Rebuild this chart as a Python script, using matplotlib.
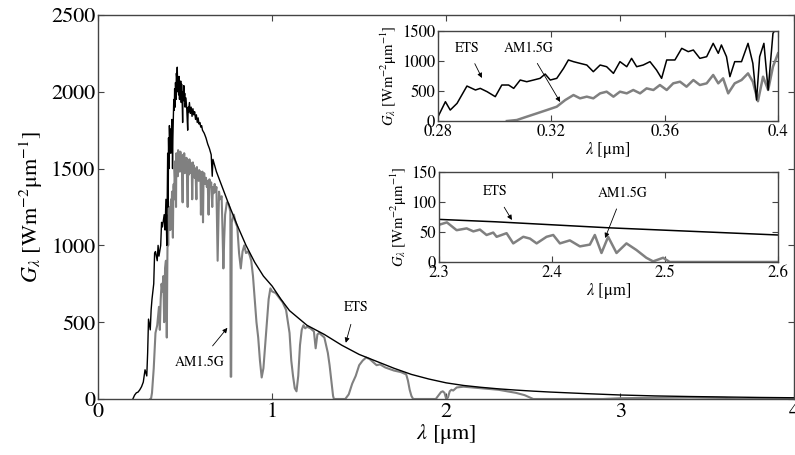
import matplotlib
matplotlib.use('Agg')
import matplotlib.pyplot as plt
import numpy as np

plt.rcParams['font.family'] = ['STIXGeneral', 'DejaVu Serif']
plt.rcParams['mathtext.fontset'] = 'stix'

# main plot: extraterrestrial spectrum (ETS)
ets_wl = [0.20, 0.21, 0.22, 0.23, 0.24, 0.25, 0.26, 0.27, 0.28, 0.285, 0.29, 0.30, 0.305,
          0.31, 0.32, 0.325, 0.33, 0.34, 0.345, 0.35, 0.36, 0.365, 0.37, 0.38, 0.385,
          0.39, 0.395, 0.400, 0.403, 0.405, 0.408, 0.410, 0.413, 0.415, 0.418, 0.420,
          0.423, 0.425, 0.428, 0.430, 0.433, 0.435, 0.438, 0.440, 0.443, 0.445, 0.448,
          0.450, 0.453, 0.455, 0.458, 0.460, 0.463, 0.465, 0.468, 0.470, 0.473, 0.475,
          0.478, 0.480, 0.483, 0.486, 0.488, 0.490, 0.493, 0.495, 0.498, 0.500, 0.505,
          0.510, 0.515, 0.518, 0.520, 0.525, 0.530, 0.535, 0.540, 0.545, 0.550, 0.555,
          0.560, 0.565, 0.570, 0.575, 0.580, 0.585, 0.590, 0.595, 0.600, 0.610, 0.620,
          0.630, 0.640, 0.650, 0.656, 0.660, 0.670, 0.680,
          0.70, 0.72, 0.75, 0.80, 0.85, 0.90, 0.95, 1.00, 1.05, 1.10, 1.20, 1.30, 1.40,
          1.50, 1.60, 1.70, 1.80, 1.90, 2.00, 2.10, 2.20, 2.30, 2.40, 2.50, 2.60, 2.80,
          3.00, 3.20, 3.40, 3.60, 3.80, 4.00]
ets_val = [0, 25, 40, 45, 60, 80, 110, 190, 150, 300, 520, 450, 580,
           650, 750, 950, 960, 900, 1000, 930, 1000, 1150, 1120, 1200, 1100,
           1300, 1000, 1600, 1250, 1700, 1500, 1780, 1650, 1720, 1600, 1760,
           1680, 1820, 1500, 1700, 1850, 1950, 1880, 2020, 1900, 2060, 1950,
           2120, 2080, 2160, 2000, 2080, 1980, 2100, 1950, 2060, 2000, 2070,
           1930, 2050, 1960, 1800, 2000, 1960, 2040, 1940, 1990, 1900, 1960,
           1880, 1750, 1900, 1870, 1930, 1860, 1900, 1840, 1890, 1850, 1870,
           1820, 1850, 1800, 1830, 1790, 1800, 1770, 1780, 1750, 1730, 1700,
           1660, 1630, 1590, 1450, 1560, 1520, 1480,
           1420, 1360, 1270, 1130, 1000, 890, 800, 735, 650, 575, 480, 420, 350,
           290, 245, 200, 160, 130, 105, 88, 76, 66, 58, 51, 45, 35,
           26, 20, 16, 13, 10, 8]

# main plot: AM1.5G global tilt spectrum
am_wl = [0.30, 0.305, 0.31, 0.32, 0.33, 0.34, 0.35, 0.355, 0.36, 0.365, 0.37, 0.375, 0.38,
         0.385, 0.39, 0.395, 0.400, 0.403, 0.405, 0.408, 0.410, 0.413, 0.415, 0.418,
         0.420, 0.423, 0.425, 0.428, 0.430, 0.433, 0.435, 0.438, 0.440, 0.443, 0.445,
         0.448, 0.450, 0.453, 0.455, 0.458, 0.460, 0.463, 0.466, 0.470, 0.473, 0.476,
         0.480, 0.483, 0.486, 0.489, 0.492, 0.495, 0.498, 0.501, 0.505, 0.508, 0.511,
         0.515, 0.518, 0.521, 0.525, 0.528, 0.531, 0.535, 0.538, 0.541, 0.545, 0.548,
         0.551, 0.555, 0.558, 0.561, 0.565, 0.568, 0.571, 0.575, 0.578, 0.581, 0.585,
         0.588, 0.591, 0.595, 0.600, 0.603, 0.606, 0.610, 0.615, 0.620, 0.625, 0.630,
         0.635, 0.640, 0.645, 0.650, 0.656, 0.660, 0.665, 0.670, 0.675, 0.680, 0.687,
         0.692, 0.695, 0.70, 0.71, 0.715, 0.72, 0.725, 0.73, 0.74,
         0.75, 0.76, 0.762, 0.765, 0.768, 0.78, 0.79, 0.80, 0.81, 0.82, 0.83, 0.84, 0.85,
         0.86, 0.87, 0.88, 0.89, 0.90, 0.91, 0.92, 0.93, 0.94, 0.95, 0.96, 0.97, 0.98,
         0.99, 1.00, 1.02, 1.04, 1.06, 1.08, 1.10, 1.11, 1.12, 1.13, 1.14, 1.15, 1.16,
         1.17, 1.18, 1.19, 1.20, 1.22, 1.24, 1.25, 1.26, 1.27, 1.28, 1.30, 1.31, 1.32,
         1.33, 1.34, 1.35, 1.355, 1.42, 1.44, 1.46, 1.48, 1.50, 1.52, 1.54, 1.56, 1.58,
         1.60, 1.62, 1.65, 1.70, 1.74, 1.77, 1.78, 1.79, 1.80, 1.81, 1.94, 1.96, 1.97,
         1.98, 1.99, 2.00, 2.01, 2.02, 2.03, 2.04, 2.06, 2.10, 2.15, 2.20, 2.25, 2.30,
         2.35, 2.40, 2.45, 2.48, 2.50, 2.90, 3.00, 3.20, 3.40, 3.60, 3.70, 4.00]
am_val = [0, 5, 40, 200, 430, 480, 600, 450, 650, 750, 700, 800, 500,
          850, 900, 400, 1150, 1000, 1200, 1100, 1250, 1180, 1100, 1280,
          1300, 1220, 1350, 1150, 1050, 1380, 1400, 1300, 1500, 1420, 1550,
          1250, 1600, 1500, 1580, 1450, 1620, 1520, 1600, 1480, 1610, 1550,
          1580, 1460, 1280, 1590, 1500, 1600, 1470, 1560, 1500, 1570, 1450,
          1250, 1540, 1460, 1560, 1480, 1540, 1470, 1520, 1300, 1540, 1460,
          1520, 1440, 1500, 1450, 1300, 1510, 1430, 1480, 1420, 1490, 1440,
          1480, 1200, 1460, 1480, 1150, 1440, 1470, 1400, 1440, 1380, 1420,
          1200, 1430, 1380, 1410, 1250, 1380, 1340, 1400, 1350, 1380, 900,
          1200, 1350, 1300, 1320, 1100, 850, 1050, 1200, 1280,
          1270, 1220, 145, 145, 1150, 1200, 1150, 1120, 950, 850, 960, 1000, 950,
          960, 940, 900, 800, 650, 500, 400, 250, 140, 200, 350, 500, 650,
          720, 700, 690, 660, 630, 580, 430, 250, 150, 70, 50, 150, 350,
          450, 480, 460, 470, 460, 440, 330, 420, 430, 420, 400, 350, 300,
          220, 120, 20, 0, 0, 30, 100, 150, 220, 250, 270, 260, 240,
          220, 225, 205, 185, 175, 160, 120, 60, 20, 0, 0, 30, 45,
          50, 40, 0, 10, 50, 60, 55, 75, 80, 75, 70, 65, 60,
          50, 40, 25, 10, 0, 0, 5, 8, 10, 7, 0, 0]

# inset 1 (UV detail)
uv_ets_wl = [0.280, 0.2826, 0.2843, 0.2867, 0.2902, 0.2932, 0.2949, 0.2973, 0.3002, 0.3025,
             0.3049, 0.3067, 0.3090, 0.3113, 0.3137, 0.3160, 0.3178, 0.3196, 0.3219, 0.3243,
             0.3260, 0.3278, 0.3301, 0.3325, 0.3348, 0.3372, 0.3395, 0.3419, 0.3442, 0.3466,
             0.3483, 0.3501, 0.3524, 0.3548, 0.3571, 0.3589, 0.3607, 0.3636, 0.3660, 0.3683,
             0.3701, 0.3724, 0.3748, 0.3771, 0.3789, 0.3800, 0.3818, 0.3830, 0.3847, 0.3871,
             0.3894, 0.3911, 0.3924, 0.3935, 0.3950, 0.3965, 0.3982, 0.3994]
uv_ets_val = [72, 322, 183, 294, 583, 517, 544, 489, 406, 600,
              600, 544, 683, 655, 683, 711, 783, 683, 711, 878,
              1017, 989, 961, 933, 822, 933, 905, 794, 989, 905,
              1044, 905, 933, 989, 850, 711, 1017, 1017, 1211, 1156,
              1183, 1044, 1072, 1294, 1128, 1267, 1072, 739, 989, 989,
              1294, 961, 350, 1072, 1294, 517, 1461, 1550]
uv_am_wl = [0.3043, 0.3078, 0.3113, 0.3149, 0.3184, 0.3219, 0.3249, 0.3278, 0.3301, 0.3325,
            0.3348, 0.3372, 0.3395, 0.3419, 0.3442, 0.3466, 0.3489, 0.3513, 0.3536, 0.3560,
            0.3583, 0.3607, 0.3630, 0.3654, 0.3677, 0.3701, 0.3724, 0.3748, 0.3771, 0.3789,
            0.3806, 0.3824, 0.3847, 0.3871, 0.3894, 0.3911, 0.3929, 0.3947, 0.3965, 0.3982,
            0.4000]
uv_am_val = [0, 17, 72, 128, 183, 239, 350, 433, 378, 406,
             378, 461, 489, 406, 489, 461, 517, 461, 544, 517,
             600, 517, 628, 655, 572, 683, 600, 628, 767, 628,
             711, 461, 628, 683, 794, 655, 330, 739, 517, 905,
             1128]

# inset 2 (IR detail)
ir_ets_wl = [2.30, 2.35, 2.40, 2.45, 2.50, 2.55, 2.60]
ir_ets_val = [71, 67, 62, 57, 53, 49, 45]
ir_am_wl = [2.300, 2.307, 2.3156, 2.3245, 2.3304, 2.3362, 2.3421, 2.348, 2.351, 2.3598,
            2.3657, 2.3746, 2.3805, 2.3864, 2.3952, 2.4011, 2.407, 2.4158, 2.4247, 2.4335,
            2.4379, 2.4438, 2.4497, 2.4571, 2.4659, 2.4747, 2.4835, 2.4895, 2.4983, 2.5042,
            2.60]
ir_am_val = [62, 66, 53, 56, 51, 54, 45, 49, 42, 48,
             31, 42, 39, 31, 42, 45, 31, 36, 26, 29,
             45, 15, 42, 15, 31, 20, 7, 1, 7, 0,
             0]

ylab = r'$G_\lambda$ [Wm$^{\mathregular{-2}}$μm$^{\mathregular{-1}}$]'
xlab = r'$\lambda$ [μm]'
gray = '#808080'
spine_c = '#444444'


def style_axes(ax, fs):
    ax.tick_params(direction='in', top=True, right=True, labelsize=fs, length=4,
                   color=spine_c, pad=2)
    for s in ax.spines.values():
        s.set_color(spine_c)
        s.set_linewidth(1.0)


fig = plt.figure(figsize=(7.95, 4.55), dpi=100)

ax = fig.add_axes([0.1233, 0.1231, 0.8760, 0.8440])
ax.plot(am_wl, am_val, color=gray, lw=1.5)
ax.plot(ets_wl, ets_val, color='black', lw=1.0)
ax.set_xlim(0, 4)
ax.set_ylim(0, 2500)
ax.set_xticks([0, 1, 2, 3, 4])
ax.set_yticks([0, 500, 1000, 1500, 2000, 2500])
style_axes(ax, 16)
ax.set_xlabel(xlab, fontsize=16, labelpad=0)
ax.set_ylabel(ylab, fontsize=16, labelpad=4)
ax.annotate('AM1.5G', xy=(0.743, 463), xytext=(0.583, 242), fontsize=10,
            ha='center', va='center',
            arrowprops=dict(arrowstyle='-|>', color='black', lw=0.6,
                            mutation_scale=7, shrinkA=6, shrinkB=0))
ax.annotate('ETS', xy=(1.423, 366), xytext=(1.48, 600), fontsize=10,
            ha='center', va='center',
            arrowprops=dict(arrowstyle='-|>', color='black', lw=0.6,
                            mutation_scale=7, shrinkA=6, shrinkB=0))

# inset 1
ax1 = fig.add_axes([0.5510, 0.7340, 0.4277, 0.1979])
ax1.plot(uv_am_wl, uv_am_val, color=gray, lw=1.8)
ax1.plot(uv_ets_wl, uv_ets_val, color='black', lw=1.1)
ax1.set_xlim(0.28, 0.40)
ax1.set_ylim(0, 1500)
ax1.set_xticks([0.28, 0.32, 0.36, 0.40])
ax1.set_xticklabels(['0.28', '0.32', '0.36', '0.4'])
ax1.set_yticks([0, 500, 1000, 1500])
style_axes(ax1, 12)
ax1.set_xlabel(xlab, fontsize=12, labelpad=0)
ax1.set_ylabel(ylab, fontsize=10.5, labelpad=2)
ax1.annotate('ETS', xy=(0.2955, 717), xytext=(0.2902, 1217), fontsize=10,
             ha='center', va='center',
             arrowprops=dict(arrowstyle='-|>', color='black', lw=0.6,
                             mutation_scale=7, shrinkA=5, shrinkB=0))
ax1.annotate('AM1.5G', xy=(0.3231, 317), xytext=(0.3118, 1217), fontsize=10,
             ha='center', va='center',
             arrowprops=dict(arrowstyle='-|>', color='black', lw=0.6,
                             mutation_scale=7, shrinkA=5, shrinkB=0))

# inset 2
ax2 = fig.add_axes([0.5522, 0.4242, 0.4264, 0.1978])
ax2.plot(ir_am_wl, ir_am_val, color=gray, lw=1.8)
ax2.plot(ir_ets_wl, ir_ets_val, color='black', lw=1.1)
ax2.set_xlim(2.3, 2.6)
ax2.set_ylim(0, 150)
ax2.set_xticks([2.3, 2.4, 2.5, 2.6])
ax2.set_yticks([0, 50, 100, 150])
style_axes(ax2, 12)
ax2.set_xlabel(xlab, fontsize=12, labelpad=0)
ax2.set_ylabel(ylab, fontsize=10.5, labelpad=2)
ax2.annotate('ETS', xy=(2.3645, 70), xytext=(2.3495, 117), fontsize=10,
             ha='center', va='center',
             arrowprops=dict(arrowstyle='-|>', color='black', lw=0.6,
                             mutation_scale=7, shrinkA=5, shrinkB=0))
ax2.annotate('AM1.5G', xy=(2.447, 40), xytext=(2.4627, 115), fontsize=10,
             ha='center', va='center',
             arrowprops=dict(arrowstyle='-|>', color='black', lw=0.6,
                             mutation_scale=7, shrinkA=5, shrinkB=0))

fig.savefig('out.png', dpi=100)
